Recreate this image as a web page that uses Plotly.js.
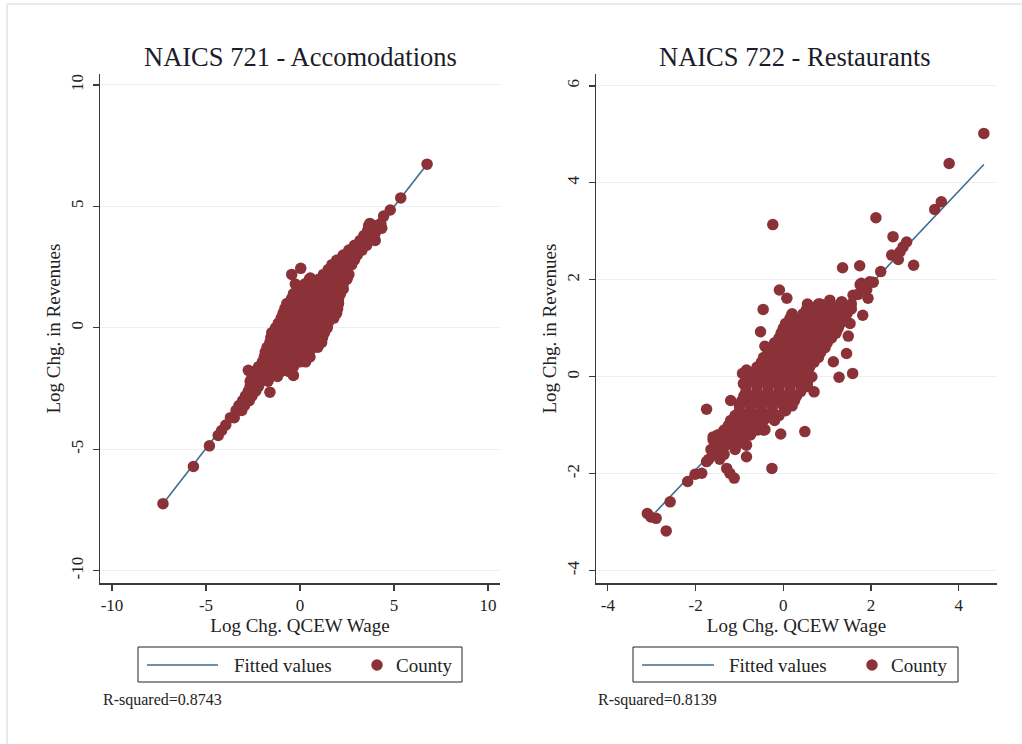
<!DOCTYPE html>
<html>
<head>
<meta charset="utf-8">
<script src="https://cdn.plot.ly/plotly-3.0.1.min.js"></script>
<style>html,body{margin:0;padding:0;background:#fff;}#chart{width:1022px;height:744px;}</style>
</head>
<body>
<div id="chart"></div>
<script>
// ---- Data ----
const accTitle = "NAICS 721 - Accomodations";
const restTitle = "NAICS 722 - Restaurants";
const xTitle = "Log Chg. QCEW Wage";
const yTitle = "Log Chg. in Revenues";
const accR2 = "R-squared=0.8743";
const restR2 = "R-squared=0.8139";
const legendNames = ["Fitted values", "County"];

const accTicks = [-10, -5, 0, 5, 10];
const accTickText = ["-10", "-5", "0", "5", "10"];
const restXTicks = [-4, -2, 0, 2, 4];
const restXTickText = ["-4", "-2", "0", "2", "4"];
const restYTicks = [-4, -2, 0, 2, 4, 6];
const restYTickText = ["-4", "-2", "0", "2", "4", "6"];

// Accommodations (NAICS 721) county points
const accX = [6.76, 5.36, 4.8, 4.45, 3.72, 4.3, 3.65, 4.0, 4.35, 3.4, 3.75, 4.0, 4.0,
  3.6, 3.95, 3.2, 3.6,
  2.9, 3.3, 3.55, 2.6, 3.0, 3.3, 2.3, 2.7, 3.05, 2.1, 2.5, 2.9, 1.95, 1.7, 2.2, 2.75, 0.04, -0.44,
  1.5, 2.0, 2.45,
  1.25, 1.75, 2.2, 2.6, 0.55,
  0.5, 1.0, 1.5, 2.0, 2.5,
  -0.25, 0.25, 0.75, 1.25, 1.75, 2.3,
  -0.05, 0.45, 0.95, 1.45, 1.95, 2.3,
  -0.35, 0.15, 0.65, 1.15, 1.65, 2.15,
  -0.45, 0.05, 0.55, 1.05, 1.55, 2.05,
  -0.7, -0.2, 0.3, 0.8, 1.3, 1.8, 2.05,
  -0.8, -0.3, 0.2, 0.7, 1.2, 1.7, 2.0,
  -0.9, -0.4, 0.1, 0.6, 1.1, 1.6, 1.95,
  -1.0, -0.5, 0.0, 0.5, 1.0, 1.5, 1.8,
  -1.15, -0.65, -0.15, 0.35, 0.85, 1.35, 1.5,
  -1.3, -0.8, -0.3, 0.2, 0.7, 1.2, 1.45,
  -1.5, -1.0, -0.5, 0.0, 0.5, 1.0, 1.3,
  -1.55, -1.05, -0.55, -0.05, 0.45, 0.95, 1.2,
  -1.6, -1.1, -0.6, -0.1, 0.4, 0.9, 1.15,
  -1.75, -1.25, -0.75, -0.25, 0.25, 0.75, 0.95,
  -1.85, -1.35, -0.85, -0.35, 0.15, 0.5, 0.53,
  -1.9, -1.4, -0.9, -0.4, 0.1, 0.35,
  -2.0, -1.5, -1.0, -0.5, 0.0, 0.3,
  -2.2, -1.75, -1.25, -0.75, -0.35,
  -2.75, -2.5, -2.0, -1.5, -1.0, -0.6, -0.35,
  -2.55, -2.05, -1.55, -1.2,
  -2.65, -2.15, -1.7, -1.6,
  -2.65, -2.2,
  -2.75, -2.35, -2.9, -2.55, -3.05, -2.7, -3.25, -2.95, -3.4, -3.1, -3.7, -3.5, -3.95,
  -4.17, -4.35, -4.82, -5.67, -7.29];
const accY = [6.74, 5.35, 4.85, 4.6, 4.3, 4.3, 4.2, 4.2, 4.1, 3.8, 3.8, 3.9, 3.6,
  4.0, 4.0, 3.6, 3.6,
  3.4, 3.4, 3.4, 3.2, 3.2, 3.2, 3.0, 3.0, 3.0, 2.8, 2.8, 2.8, 2.78, 2.6, 2.6, 2.6, 2.45, 2.2,
  2.4, 2.4, 2.4,
  2.2, 2.2, 2.2, 2.2, 2.05,
  2.0, 2.0, 2.0, 2.0, 2.0,
  1.8, 1.8, 1.8, 1.8, 1.8, 1.8,
  1.6, 1.6, 1.6, 1.6, 1.6, 1.6,
  1.4, 1.4, 1.4, 1.4, 1.4, 1.4,
  1.2, 1.2, 1.2, 1.2, 1.2, 1.2,
  1.0, 1.0, 1.0, 1.0, 1.0, 1.0, 1.0,
  0.8, 0.8, 0.8, 0.8, 0.8, 0.8, 0.8,
  0.6, 0.6, 0.6, 0.6, 0.6, 0.6, 0.6,
  0.4, 0.4, 0.4, 0.4, 0.4, 0.4, 0.4,
  0.2, 0.2, 0.2, 0.2, 0.2, 0.2, 0.2,
  0.0, 0.0, 0.0, 0.0, 0.0, 0.0, 0.0,
  -0.2, -0.2, -0.2, -0.2, -0.2, -0.2, -0.2,
  -0.4, -0.4, -0.4, -0.4, -0.4, -0.4, -0.4,
  -0.6, -0.6, -0.6, -0.6, -0.6, -0.6, -0.6,
  -0.8, -0.8, -0.8, -0.8, -0.8, -0.8, -0.8,
  -1.0, -1.0, -1.0, -1.0, -1.0, -1.0, -1.2,
  -1.2, -1.2, -1.2, -1.2, -1.2, -1.2,
  -1.4, -1.4, -1.4, -1.4, -1.4, -1.4,
  -1.6, -1.6, -1.6, -1.6, -1.6,
  -1.75, -1.8, -1.8, -1.8, -1.8, -1.8, -1.96,
  -2.0, -2.0, -2.0, -2.0,
  -2.2, -2.2, -2.2, -2.65,
  -2.4, -2.4,
  -2.6, -2.6, -2.8, -2.8, -3.0, -3.0, -3.2, -3.2, -3.4, -3.4, -3.7, -3.7, -4.0,
  -4.23, -4.43, -4.86, -5.71, -7.24];
const accFitX = [-7.3, 6.8];
const accFitY = [-7.25, 6.78];

// Restaurants (NAICS 722) county points
const restX = [4.57, 3.78, 3.6, 3.45, 2.11, -0.24, 2.5, 2.81, 2.73, 2.66, 2.47, 2.62, 2.97,
  1.35, 1.74, 2.22, 1.97, 1.78, -0.09, 0.08, -0.46, 0.53, 0.87, 1.06, 1.33, 1.59, 1.93,
  1.81, 1.52, 1.48, -0.52, -0.42, 1.44, 1.14, 1.27, 1.58, -0.93, -0.84, 0.70, -1.2,
  -1.75, 0.49, -0.06, -0.42, -0.84, -0.26, -1.29, -1.22, -1.12, -1.86, -2.01, -2.18,
  -2.58, -3.1, -3.02, -2.9, -2.67, -1.75, -1.6, -1.41, -0.84, -0.91,
  1.7, 1.9, 2.05, 1.75, 0.19, 0.83,
  0.55, 0.8, 1.05, 1.3, 1.55,
  0.6, 0.85, 1.1, 1.35, 1.55,
  0.2, 0.45, 0.7, 0.95, 1.2, 1.45,
  0.15, 0.4, 0.65, 0.9, 1.15, 1.4,
  0.05, 0.3, 0.55, 0.8, 1.05, 1.3,
  0.0, 0.25, 0.5, 0.75, 1.0, 1.25,
  -0.05, 0.2, 0.45, 0.7, 0.95, 1.2,
  -0.1, 0.1, 0.35, 0.6, 0.85, 1.1,
  -0.2, 0.05, 0.3, 0.55, 0.8, 1.0,
  -0.3, -0.05, 0.2, 0.45, 0.7, 0.95,
  -0.35, -0.1, 0.15, 0.4, 0.65, 0.85,
  -0.45, -0.2, 0.05, 0.3, 0.55, 0.8,
  -0.5, -0.25, 0.0, 0.25, 0.5, 0.7,
  -0.6, -0.35, -0.1, 0.15, 0.4, 0.6,
  -0.65, -0.4, -0.15, 0.1, 0.35, 0.55,
  -0.7, -0.45, -0.2, 0.05, 0.3, 0.5, 0.65,
  -0.8, -0.55, -0.3, -0.05, 0.2, 0.4, 0.55,
  -0.85, -0.6, -0.35, -0.1, 0.15, 0.4, 0.55,
  -0.85, -0.6, -0.35, -0.1, 0.15, 0.4,
  -0.9, -0.65, -0.4, -0.15, 0.1, 0.3,
  -0.95, -0.7, -0.45, -0.2, 0.05, 0.25,
  -1.0, -0.75, -0.5, -0.25, 0.0, 0.2,
  -1.0, -0.75, -0.5, -0.25, 0.05,
  -1.1, -0.85, -0.6, -0.35, -0.1,
  -1.2, -0.95, -0.7, -0.45, -0.2,
  -1.25, -1.0, -0.75, -0.5,
  -1.35, -1.1, -0.85, -0.6, -0.45,
  -1.5, -1.25, -1.0, -0.75,
  -1.6, -1.45, -1.2, -0.95,
  -1.55, -1.3, -1.05,
  -1.65, -1.4, -1.1,
  -1.6, -1.35,
  -1.7, -1.45];
const restY = [5.02, 4.40, 3.61, 3.45, 3.28, 3.14, 2.89, 2.78, 2.68, 2.58, 2.51, 2.42, 2.30,
  2.25, 2.29, 2.17, 1.96, 1.93, 1.79, 1.62, 1.39, 1.39, 1.49, 1.58, 1.55, 1.68, 1.62,
  1.27, 1.10, 0.84, 0.93, 0.63, 0.48, 0.31, -0.01, 0.07, 0.07, 0.14, -0.31, -0.49,
  -0.67, -1.13, -1.18, -1.09, -1.65, -1.89, -1.89, -1.99, -2.09, -1.99, -2.01, -2.16,
  -2.58, -2.82, -2.89, -2.92, -3.18, -1.75, -1.24, -1.17, -1.41, -0.14,
  1.7, 1.8, 1.95, 1.9, 1.27, 1.5,
  1.5, 1.5, 1.5, 1.5, 1.5,
  1.4, 1.4, 1.4, 1.4, 1.4,
  1.3, 1.3, 1.3, 1.3, 1.3, 1.3,
  1.2, 1.2, 1.2, 1.2, 1.2, 1.2,
  1.1, 1.1, 1.1, 1.1, 1.1, 1.1,
  1.0, 1.0, 1.0, 1.0, 1.0, 1.0,
  0.9, 0.9, 0.9, 0.9, 0.9, 0.9,
  0.8, 0.8, 0.8, 0.8, 0.8, 0.8,
  0.7, 0.7, 0.7, 0.7, 0.7, 0.7,
  0.6, 0.6, 0.6, 0.6, 0.6, 0.6,
  0.5, 0.5, 0.5, 0.5, 0.5, 0.5,
  0.4, 0.4, 0.4, 0.4, 0.4, 0.4,
  0.3, 0.3, 0.3, 0.3, 0.3, 0.3,
  0.2, 0.2, 0.2, 0.2, 0.2, 0.2,
  0.1, 0.1, 0.1, 0.1, 0.1, 0.1,
  0.0, 0.0, 0.0, 0.0, 0.0, 0.0, 0.0,
  -0.1, -0.1, -0.1, -0.1, -0.1, -0.1, -0.1,
  -0.2, -0.2, -0.2, -0.2, -0.2, -0.2, -0.2,
  -0.3, -0.3, -0.3, -0.3, -0.3, -0.3,
  -0.4, -0.4, -0.4, -0.4, -0.4, -0.4,
  -0.5, -0.5, -0.5, -0.5, -0.5, -0.5,
  -0.6, -0.6, -0.6, -0.6, -0.6, -0.6,
  -0.7, -0.7, -0.7, -0.7, -0.7,
  -0.8, -0.8, -0.8, -0.8, -0.8,
  -0.9, -0.9, -0.9, -0.9, -0.9,
  -1.0, -1.0, -1.0, -1.0,
  -1.1, -1.1, -1.1, -1.1, -1.1,
  -1.2, -1.2, -1.2, -1.2,
  -1.3, -1.3, -1.3, -1.3,
  -1.4, -1.4, -1.4,
  -1.5, -1.5, -1.5,
  -1.6, -1.6,
  -1.7, -1.7];
const restFitX = [-2.92, 4.57];
const restFitY = [-2.80, 4.38];

// ---- Styling ----
const SERIF = "Liberation Serif, Times New Roman, serif";
const DOT = "#8B3239";
const LINE = "#3E6C8F";
const W = 1022, H = 744;
const px = v => v / W;
const py = v => 1 - v / H;

const traces = [
  {x: accFitX, y: accFitY, type: "scatter", mode: "lines", name: legendNames[0],
   line: {color: LINE, width: 1.6}, xaxis: "x", yaxis: "y"},
  {x: accX, y: accY, type: "scatter", mode: "markers", name: legendNames[1],
   marker: {color: DOT, size: 11.5, line: {width: 0}}, xaxis: "x", yaxis: "y"},
  {x: restFitX, y: restFitY, type: "scatter", mode: "lines", name: legendNames[0],
   line: {color: LINE, width: 1.6}, xaxis: "x2", yaxis: "y2"},
  {x: restX, y: restY, type: "scatter", mode: "markers", name: legendNames[1],
   marker: {color: DOT, size: 11.5, line: {width: 0}}, xaxis: "x2", yaxis: "y2"}
];

function xax(dom, range, ticks, text, anchor) {
  return {domain: dom, range: range, tickvals: ticks, ticktext: text, anchor: anchor,
    showline: true, linecolor: "#3a3a3a", linewidth: 1.2,
    ticks: "outside", ticklen: 6, tickcolor: "#3a3a3a", tickwidth: 1.2,
    showgrid: false, zeroline: false,
    tickfont: {family: SERIF, size: 17, color: "#222"},
    title: {text: xTitle, font: {family: SERIF, size: 19, color: "#222"}, standoff: 4}};
}
function yax(dom, range, ticks, text, anchor) {
  return {domain: dom, range: range, tickvals: ticks, ticktext: text, anchor: anchor,
    showline: true, linecolor: "#3a3a3a", linewidth: 1.2,
    ticks: "outside", ticklen: 6, tickcolor: "#3a3a3a", tickwidth: 1.2,
    showgrid: true, gridcolor: "#EAF1F2", gridwidth: 1, zeroline: false,
    tickangle: -90, ticklabelstandoff: 3,
    tickfont: {family: SERIF, size: 17, color: "#222"},
    title: {text: yTitle, font: {family: SERIF, size: 19, color: "#222"}, standoff: 2}};
}

// Hand-drawn legend box (Stata style) for each panel, in pixel positions
function legendParts(boxL, boxR, lineL, lineR, text1L, dotX, text2L) {
  const top = 647, bot = 682, mid = 665;
  const shapes = [
    {type: "rect", xref: "paper", yref: "paper", x0: px(boxL), x1: px(boxR), y0: py(bot), y1: py(top),
     line: {color: "#222", width: 1}, fillcolor: "#fff"},
    {type: "line", xref: "paper", yref: "paper", x0: px(lineL), x1: px(lineR), y0: py(mid), y1: py(mid),
     line: {color: LINE, width: 1.6}},
    {type: "circle", xref: "paper", yref: "paper", x0: px(dotX - 5.75), x1: px(dotX + 5.75),
     y0: py(mid + 5.75), y1: py(mid - 5.75), line: {width: 0}, fillcolor: DOT}
  ];
  const ann = [
    {text: legendNames[0], x: px(text1L), y: py(mid), xref: "paper", yref: "paper", showarrow: false,
     xanchor: "left", yanchor: "middle", font: {family: SERIF, size: 19, color: "#222"}},
    {text: legendNames[1], x: px(text2L), y: py(mid), xref: "paper", yref: "paper", showarrow: false,
     xanchor: "left", yanchor: "middle", font: {family: SERIF, size: 19, color: "#222"}}
  ];
  return {shapes, ann};
}
const legL = legendParts(138, 462, 147, 218, 232, 377, 394);
const legR = legendParts(633, 958, 642, 714, 727, 872, 889);

const yDom = [py(583.3), py(73.8)];

const layout = {
  width: W, height: H,
  margin: {l: 0, r: 0, t: 0, b: 0, pad: 0},
  paper_bgcolor: "#fff", plot_bgcolor: "#fff",
  showlegend: false,
  xaxis: xax([px(100), px(500)], [-10.64, 10.64], accTicks, accTickText, "y"),
  yaxis: yax(yDom, [-10.52, 10.46], accTicks, accTickText, "x"),
  xaxis2: xax([px(596), px(997)], [-4.27, 4.87], restXTicks, restXTickText, "y2"),
  yaxis2: yax(yDom, [-4.26, 6.25], restYTicks, restYTickText, "x2"),
  annotations: [
    {text: accTitle, x: px(300), y: py(57), xref: "paper", yref: "paper", showarrow: false,
     xanchor: "center", yanchor: "middle", font: {family: SERIF, size: 26.5, color: "#1c1c2a"}},
    {text: restTitle, x: px(795), y: py(57), xref: "paper", yref: "paper", showarrow: false,
     xanchor: "center", yanchor: "middle", font: {family: SERIF, size: 26.5, color: "#1c1c2a"}},
    {text: accR2, x: px(101), y: py(700), xref: "paper", yref: "paper", showarrow: false,
     xanchor: "left", yanchor: "middle", font: {family: SERIF, size: 16, color: "#222"}},
    {text: restR2, x: px(596), y: py(700), xref: "paper", yref: "paper", showarrow: false,
     xanchor: "left", yanchor: "middle", font: {family: SERIF, size: 16, color: "#222"}}
  ].concat(legL.ann, legR.ann),
  shapes: [
    {type: "line", xref: "paper", yref: "paper", x0: px(7), x1: 1.01, y0: py(4), y1: py(4),
     line: {color: "#E4EAED", width: 2}},
    {type: "line", xref: "paper", yref: "paper", x0: px(7), x1: px(7), y0: py(4), y1: -0.01,
     line: {color: "#E4EAED", width: 2}}
  ].concat(legL.shapes, legR.shapes)
};

Plotly.newPlot("chart", traces, layout, {displayModeBar: false, staticPlot: true});
</script>
</body>
</html>
